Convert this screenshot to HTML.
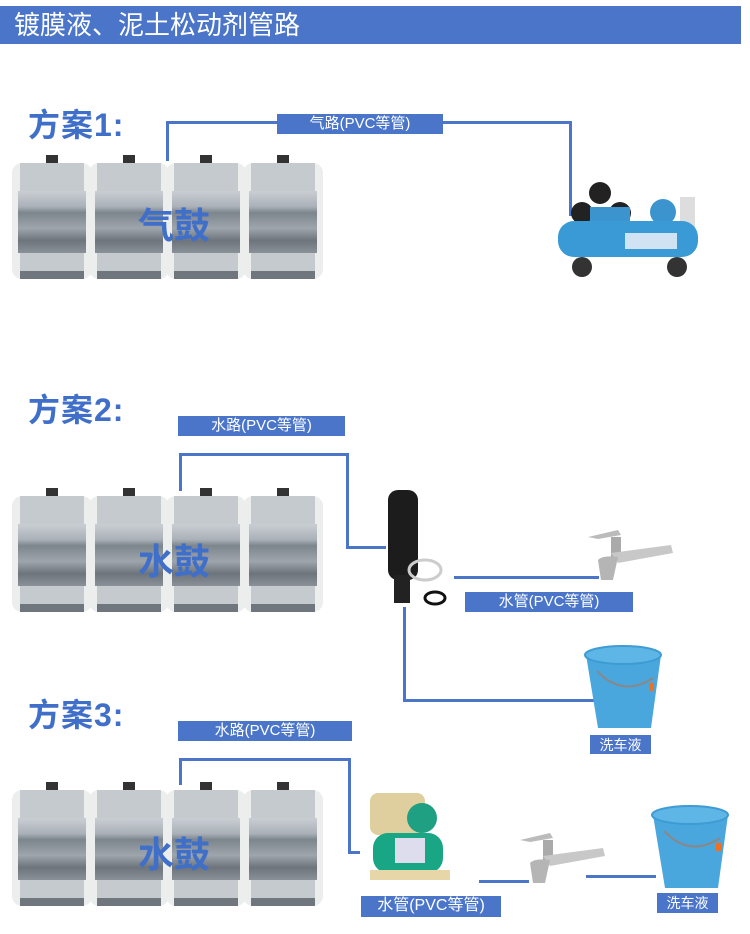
<!DOCTYPE html>
<html><head><meta charset="utf-8"><style>
body{margin:0;width:750px;height:934px;background:#fff;position:relative;overflow:hidden;font-family:"Liberation Sans","Noto Sans CJK SC",sans-serif}
.a{position:absolute}
.hdr{left:0;top:6px;width:741px;height:38px;background:#4a75c9;color:#fff;font-size:26px;line-height:38px;padding-left:14px;box-sizing:border-box}
.tt{color:#3f6fc8;font-size:32px;font-weight:bold;letter-spacing:1px}
.lb{background:#4a75c9;color:#fff;font-size:15px;text-align:center;line-height:20px}
.ln{background:#4a75c9}
.dt{color:#3f6fc8;font-size:36px;font-weight:bold}
</style></head><body>
<svg width="0" height="0" style="position:absolute">
<defs>
<linearGradient id="met" x1="0" y1="0" x2="0" y2="1">
<stop offset="0" stop-color="#c9ced3"/><stop offset=".25" stop-color="#aab1b8"/><stop offset=".35" stop-color="#7d858d"/><stop offset=".6" stop-color="#9ea5ac"/><stop offset=".8" stop-color="#6d747b"/><stop offset="1" stop-color="#8a9198"/></linearGradient>
<symbol id="drum" viewBox="0 0 312 125">
<g id="seg">
<rect x="0" y="8" width="80" height="116" rx="10" fill="#eceeed"/>
<rect x="8" y="8" width="64" height="28" fill="#c4cace"/>
<rect x="6" y="36" width="68" height="62" fill="url(#met)"/>
<rect x="8" y="98" width="64" height="18" fill="#c4cace"/>
<rect x="8" y="116" width="64" height="8" fill="#6f767d"/>
<rect x="34" y="0" width="12" height="8" fill="#333"/>
</g>
<use href="#seg" x="77"/><use href="#seg" x="154"/><use href="#seg" x="231"/>
</symbol>
</defs></svg>

<div class="a hdr">镀膜液、泥土松动剂管路</div>

<!-- scheme 1 -->
<div class="a tt" style="left:28px;top:100px">方案1:</div>
<svg class="a" style="left:12px;top:155px" width="312" height="125"><use href="#drum"/></svg>
<div class="a dt" style="left:138px;top:197px">气鼓</div>
<div class="a ln" style="left:166px;top:121px;width:3px;height:40px"></div>
<div class="a ln" style="left:166px;top:121px;width:406px;height:3px"></div>
<div class="a ln" style="left:569px;top:121px;width:3px;height:95px"></div>
<div class="a lb" style="left:277px;top:114px;width:166px">气路(PVC等管)</div>
<svg class="a" style="left:555px;top:175px" width="150" height="105">
<circle cx="27" cy="38" r="11" fill="#222"/><circle cx="45" cy="18" r="11" fill="#222"/><circle cx="65" cy="38" r="11" fill="#222"/>
<rect x="35" y="32" width="40" height="30" fill="#3c94cf"/>
<circle cx="108" cy="37" r="13" fill="#3c94cf"/><rect x="125" y="22" width="15" height="30" fill="#ddd"/>
<rect x="3" y="46" width="140" height="36" rx="16" fill="#3a9ad6"/>
<rect x="70" y="58" width="52" height="16" fill="#cfe3f3"/>
<circle cx="27" cy="92" r="10" fill="#333"/><circle cx="122" cy="92" r="10" fill="#333"/>
</svg>

<!-- scheme 2 -->
<div class="a tt" style="left:28px;top:385px">方案2:</div>
<div class="a lb" style="left:178px;top:416px;width:167px">水路(PVC等管)</div>
<svg class="a" style="left:12px;top:488px" width="312" height="125"><use href="#drum"/></svg>
<div class="a dt" style="left:138px;top:533px">水鼓</div>
<div class="a ln" style="left:179px;top:453px;width:3px;height:38px"></div>
<div class="a ln" style="left:179px;top:453px;width:170px;height:3px"></div>
<div class="a ln" style="left:346px;top:453px;width:3px;height:96px"></div>
<div class="a ln" style="left:346px;top:546px;width:40px;height:3px"></div>
<svg class="a" style="left:380px;top:485px" width="80" height="125">
<rect x="8" y="5" width="30" height="90" rx="10" fill="#1c1c1c"/>
<rect x="14" y="90" width="16" height="28" fill="#222"/>
<ellipse cx="45" cy="85" rx="16" ry="10" fill="none" stroke="#ccc" stroke-width="3"/>
<ellipse cx="55" cy="113" rx="10" ry="6" fill="none" stroke="#111" stroke-width="3"/>
</svg>
<div class="a ln" style="left:454px;top:576px;width:145px;height:3px"></div>
<svg class="a" style="left:583px;top:525px" width="95" height="62">
<path d="M5 12 L35 5 L38 10 L15 14Z" fill="#bbb"/>
<rect x="28" y="12" width="10" height="20" fill="#aaa"/>
<path d="M28 28 L88 20 L90 28 L35 38Z" fill="#c8c8c8"/>
<path d="M15 35 Q20 30 35 32 L30 55 L18 55Z" fill="#b5b5b5"/>
</svg>
<div class="a lb" style="left:465px;top:592px;width:168px">水管(PVC等管)</div>
<div class="a ln" style="left:403px;top:607px;width:3px;height:95px"></div>
<div class="a ln" style="left:403px;top:699px;width:195px;height:3px"></div>
<svg class="a" style="left:583px;top:643px" width="82" height="90">
<path d="M3 12 L78 12 L68 85 L15 85Z" fill="#4aa7de"/>
<ellipse cx="40" cy="12" rx="38" ry="9" fill="#5eb6e6" stroke="#3e9bd4" stroke-width="2"/>
<path d="M14 28 Q40 55 70 35" fill="none" stroke="#888" stroke-width="2"/>
<rect x="66" y="40" width="5" height="8" fill="#f07020"/>
</svg>
<div class="a lb" style="left:590px;top:735px;width:61px;height:19px;font-size:14px">洗车液</div>

<!-- scheme 3 -->
<div class="a tt" style="left:28px;top:690px">方案3:</div>
<div class="a lb" style="left:178px;top:721px;width:174px">水路(PVC等管)</div>
<svg class="a" style="left:12px;top:782px" width="312" height="125"><use href="#drum"/></svg>
<div class="a dt" style="left:138px;top:826px">水鼓</div>
<div class="a ln" style="left:179px;top:758px;width:3px;height:27px"></div>
<div class="a ln" style="left:179px;top:758px;width:172px;height:3px"></div>
<div class="a ln" style="left:348px;top:758px;width:3px;height:96px"></div>
<div class="a ln" style="left:348px;top:851px;width:12px;height:3px"></div>
<svg class="a" style="left:365px;top:788px" width="100" height="100">
<rect x="5" y="5" width="55" height="42" rx="8" fill="#e0cf9e"/>
<circle cx="57" cy="30" r="15" fill="#1fa082"/>
<rect x="8" y="45" width="70" height="40" rx="15" fill="#18a685"/>
<rect x="30" y="50" width="30" height="25" fill="#dde"/>
<rect x="5" y="82" width="80" height="10" fill="#e6d6a8"/>
</svg>
<div class="a ln" style="left:479px;top:880px;width:50px;height:3px"></div>
<svg class="a" style="left:515px;top:828px" width="95" height="62">
<path d="M5 12 L35 5 L38 10 L15 14Z" fill="#bbb"/>
<rect x="28" y="12" width="10" height="20" fill="#aaa"/>
<path d="M28 28 L88 20 L90 28 L35 38Z" fill="#c8c8c8"/>
<path d="M15 35 Q20 30 35 32 L30 55 L18 55Z" fill="#b5b5b5"/>
</svg>
<div class="a ln" style="left:586px;top:875px;width:70px;height:3px"></div>
<svg class="a" style="left:650px;top:803px" width="82" height="90">
<path d="M3 12 L78 12 L68 85 L15 85Z" fill="#4aa7de"/>
<ellipse cx="40" cy="12" rx="38" ry="9" fill="#5eb6e6" stroke="#3e9bd4" stroke-width="2"/>
<path d="M14 28 Q40 55 70 35" fill="none" stroke="#888" stroke-width="2"/>
<rect x="66" y="40" width="5" height="8" fill="#f07020"/>
</svg>
<div class="a lb" style="left:361px;top:896px;width:140px;height:21px;font-size:16px">水管(PVC等管)</div>
<div class="a lb" style="left:657px;top:893px;width:61px;height:20px;font-size:14px">洗车液</div>
</body></html>
